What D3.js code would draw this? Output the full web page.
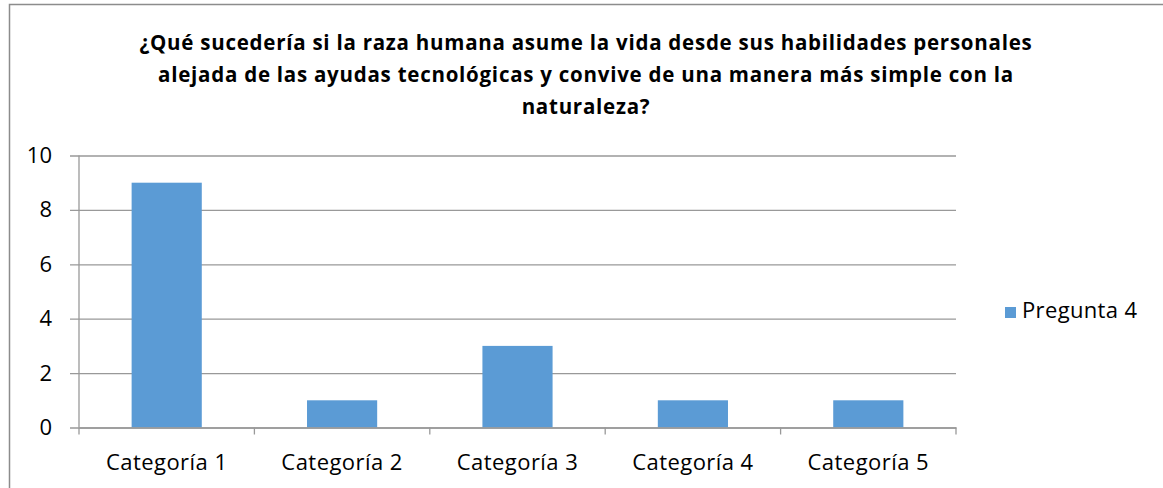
<!DOCTYPE html>
<html>
<head>
<meta charset="utf-8">
<script src="https://cdn.jsdelivr.net/npm/d3@7/dist/d3.min.js"></script>
<style>
  html, body { margin: 0; padding: 0; background: #fff; }
  svg { display: block; font-family: "Open Sans", sans-serif; }
</style>
</head>
<body>
<svg id="chart" width="1163" height="488"></svg>
<script>
const categories = ["Categoría 1", "Categoría 2", "Categoría 3", "Categoría 4", "Categoría 5"];
const values = [9, 1, 3, 1, 1];
const seriesName = "Pregunta 4";
const yTicks = [0, 2, 4, 6, 8, 10];
const titleLines = [
  "¿Qué sucedería si la raza humana asume la vida desde sus habilidades personales",
  "alejada de las ayudas tecnológicas y convive de una manera más simple con la",
  "naturaleza?"
];

const svg = d3.select("#chart");
const barColor = "#5b9bd5";
const gridColor = "#999";
const font = "'Open Sans', sans-serif";

// chart frame
svg.append("rect")
  .attr("x", 9.5).attr("y", 4.5)
  .attr("width", 1170).attr("height", 500)
  .attr("fill", "none").attr("stroke", "#8c8c8c").attr("stroke-width", 1.5);

const plot = { left: 79, right: 956, top: 155.5, bottom: 427.5 };

const x = d3.scaleBand()
  .domain(categories)
  .range([plot.left, plot.right])
  .paddingInner(0.6)
  .paddingOuter(0.3);

const y = d3.scaleLinear().domain([0, 10]).range([plot.bottom, plot.top]);

// title
svg.append("text")
  .attr("text-anchor", "middle")
  .attr("font-weight", "bold")
  .attr("font-size", 20.5)
  .attr("letter-spacing", 0.75)
  .attr("fill", "#000")
  .selectAll("tspan")
  .data(titleLines)
  .join("tspan")
  .attr("x", 586)
  .attr("y", (d, i) => 49.5 + i * 32)
  .text(d => d);

// horizontal gridlines with short ticks to the left of the axis
const yAxis = d3.axisLeft(y)
  .tickValues(yTicks)
  .tickSize(-(plot.right - plot.left))
  .tickSizeOuter(0)
  .tickPadding(27)
  .tickFormat(d3.format("d"));

const gy = svg.append("g")
  .attr("transform", `translate(${plot.left},0)`)
  .call(yAxis);
gy.select(".domain").remove();
gy.selectAll(".tick line")
  .attr("x1", -9)
  .attr("stroke", gridColor)
  .attr("stroke-width", 1.3);
gy.selectAll(".tick text")
  .attr("font-size", 22)
  .attr("fill", "#000")
  .attr("font-family", font);

// vertical axis line
svg.append("line")
  .attr("x1", plot.left).attr("x2", plot.left)
  .attr("y1", plot.top).attr("y2", plot.bottom)
  .attr("stroke", gridColor).attr("stroke-width", 1.3);

// bars
svg.append("g")
  .selectAll("rect")
  .data(values)
  .join("rect")
  .attr("x", (d, i) => x(categories[i]))
  .attr("y", d => y(d))
  .attr("width", x.bandwidth())
  .attr("height", d => y(0) - y(d))
  .attr("fill", barColor);

// category axis with ticks between categories
const gx = svg.append("g")
  .attr("transform", `translate(0,${plot.bottom})`)
  .call(d3.axisBottom(x).tickSize(0).tickSizeOuter(0));
gx.select(".domain").attr("stroke", gridColor).attr("stroke-width", 1.3);
gx.selectAll(".tick text")
  .attr("y", 42)
  .attr("dy", 0)
  .attr("font-size", 22)
  .attr("letter-spacing", 0.45)
  .attr("fill", "#000")
  .attr("font-family", font);

const boundaries = d3.range(categories.length + 1).map(i => plot.left + i * x.step());
svg.append("g")
  .selectAll("line")
  .data(boundaries)
  .join("line")
  .attr("x1", d => d).attr("x2", d => d)
  .attr("y1", plot.bottom).attr("y2", plot.bottom + 7)
  .attr("stroke", gridColor).attr("stroke-width", 1.3);

// legend
const legend = svg.append("g").attr("transform", "translate(1005,305)");
legend.append("rect")
  .attr("width", 11).attr("height", 11)
  .attr("y", 2)
  .attr("fill", barColor);
legend.append("text")
  .attr("x", 17).attr("y", 13)
  .attr("font-size", 22)
  .attr("letter-spacing", 0.35)
  .attr("fill", "#000")
  .text(seriesName);
</script>
</body>
</html>
